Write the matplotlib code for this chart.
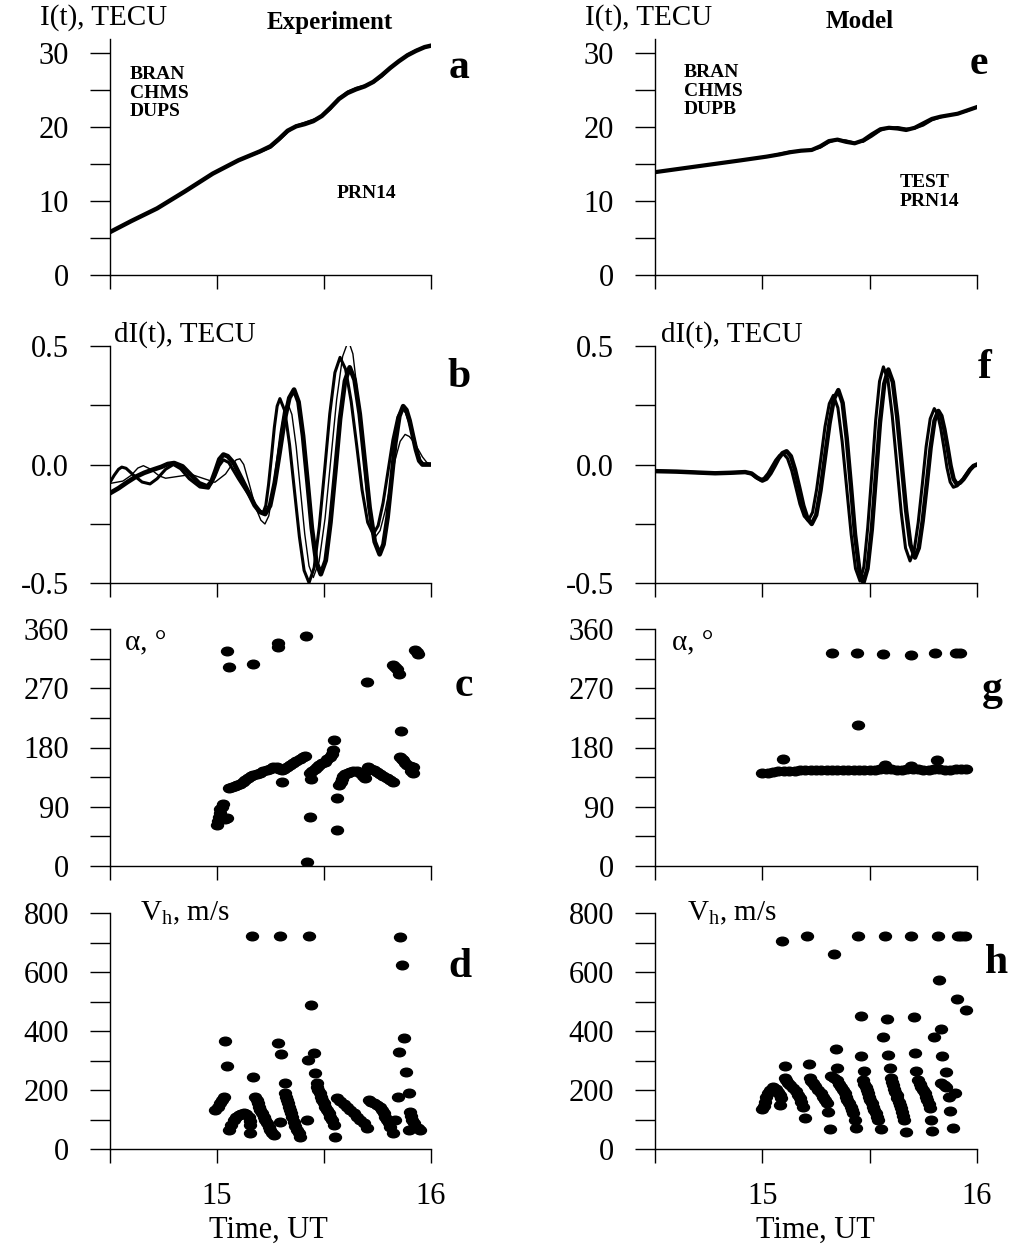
import matplotlib.pyplot as plt
from matplotlib.path import Path
from matplotlib.transforms import Affine2D

plt.rcParams['font.family'] = ['Liberation Serif', 'DejaVu Serif']
plt.rcParams['mathtext.fontset'] = 'custom'
plt.rcParams['mathtext.rm'] = 'Liberation Serif'
plt.rcParams['mathtext.it'] = 'Liberation Serif:italic'

# ---- data ----
# a: I(t) experiment
a_t = [14.50, 14.60, 14.72, 14.85, 14.98, 15.10, 15.20, 15.25, 15.29, 15.33, 15.37, 15.41, 15.45, 15.49,
       15.53, 15.57, 15.61, 15.65, 15.69, 15.73, 15.77, 15.81, 15.85, 15.89, 15.93, 15.97, 16.00]
a_i1 = [5.8, 7.3, 9.0, 11.3, 13.7, 15.5, 16.7, 17.4, 18.4, 19.5, 20.1, 20.4, 20.8, 21.5,
        22.6, 23.8, 24.6, 25.1, 25.5, 26.1, 27.0, 28.0, 28.9, 29.7, 30.3, 30.8, 31.0]
a_i2 = [5.8, 7.3, 9.0, 11.3, 13.7, 15.5, 16.6, 17.2, 18.2, 19.3, 20.2, 20.6, 21.0, 21.4,
        22.4, 23.9, 24.8, 25.3, 25.6, 26.0, 26.8, 27.9, 28.9, 29.8, 30.4, 30.8, 31.0]

# e: I(t) model
e_t = [14.50, 14.70, 14.90, 15.02, 15.08, 15.13, 15.18, 15.23, 15.27, 15.31, 15.35, 15.39, 15.43, 15.47,
       15.51, 15.55, 15.59, 15.63, 15.67, 15.71, 15.75, 15.79, 15.83, 15.87, 15.91, 15.95, 16.00]
e_i1 = [13.9, 14.7, 15.5, 16.0, 16.3, 16.6, 16.8, 16.9, 17.4, 18.1, 18.3, 18.0, 17.8, 18.2,
        19.0, 19.7, 19.9, 19.8, 19.6, 19.9, 20.5, 21.1, 21.4, 21.6, 21.8, 22.2, 22.7]
e_i2 = [13.9, 14.7, 15.5, 16.0, 16.4, 16.7, 16.8, 16.9, 17.2, 17.9, 18.3, 18.2, 17.9, 18.0,
        18.7, 19.5, 19.9, 20.0, 19.8, 19.8, 20.2, 20.9, 21.3, 21.6, 21.8, 22.1, 22.7]

# b: dI(t) experiment, three stations
b_t1 = [14.500, 14.540, 14.580, 14.620, 14.660, 14.700, 14.740, 14.770, 14.800, 14.839, 14.878, 14.916, 14.955,
        14.974, 14.993, 15.011, 15.030, 15.050, 15.079, 15.128, 15.176, 15.200, 15.225,
        15.248, 15.270, 15.293, 15.315, 15.338, 15.360, 15.381, 15.402, 15.423, 15.443, 15.464, 15.485,
        15.508, 15.530, 15.553, 15.575, 15.598, 15.620, 15.643, 15.667, 15.690, 15.713, 15.737, 15.760,
        15.778, 15.797, 15.815, 15.833, 15.852, 15.870, 15.885, 15.900, 15.915, 15.930, 15.945, 15.960, 15.980, 16.000]
b_v1 = [-0.121, -0.100, -0.075, -0.052, -0.035, -0.022, -0.010, 0.002, 0.006, -0.008, -0.044, -0.079, -0.093,
        -0.073, -0.026, 0.022, 0.042, 0.035, 0.005, -0.084, -0.172, -0.200, -0.209,
        -0.174, -0.078, 0.054, 0.185, 0.281, 0.316, 0.264, 0.121, -0.074, -0.268, -0.411, -0.463,
        -0.405, -0.245, -0.027, 0.192, 0.352, 0.410, 0.357, 0.213, 0.016, -0.182, -0.326, -0.379,
        -0.337, -0.223, -0.067, 0.090, 0.204, 0.246, 0.230, 0.185, 0.123, 0.062, 0.016, 0.000, 0.000, 0.000]
b_t2 = [14.500, 14.520, 14.540, 14.555, 14.575, 14.610, 14.650, 14.687, 14.720, 14.760, 14.796, 14.830, 14.870,
        14.920, 14.960, 14.990, 15.010, 15.030, 15.055, 15.100, 15.150, 15.190, 15.215,
        15.228, 15.241, 15.255, 15.268, 15.281, 15.294, 15.317, 15.339, 15.362, 15.385, 15.407, 15.430,
        15.454, 15.478, 15.503, 15.527, 15.551, 15.575, 15.601, 15.627, 15.653, 15.678, 15.704, 15.730,
        15.753, 15.776, 15.799, 15.822, 15.845, 15.868, 15.884, 15.900, 15.917, 15.933, 15.949, 15.965, 16.000]
b_v2 = [-0.075, -0.045, -0.020, -0.011, -0.016, -0.045, -0.074, -0.082, -0.060, -0.020, 0.000, -0.018, -0.060,
        -0.095, -0.100, -0.050, -0.005, 0.020, 0.008, -0.060, -0.130, -0.190, -0.205,
        -0.173, -0.084, 0.037, 0.157, 0.246, 0.278, 0.226, 0.084, -0.111, -0.305, -0.447, -0.499,
        -0.435, -0.261, -0.024, 0.214, 0.388, 0.452, 0.402, 0.266, 0.079, -0.108, -0.244, -0.294,
        -0.258, -0.162, -0.029, 0.104, 0.200, 0.236, 0.220, 0.177, 0.118, 0.059, 0.016, 0.000, 0.000]
b_t3 = [14.500, 14.560, 14.600, 14.630, 14.656, 14.690, 14.730, 14.760, 14.820, 14.880, 14.940, 14.990, 15.040,
        15.070, 15.090, 15.107, 15.125, 15.150, 15.180, 15.205, 15.224,
        15.242, 15.259, 15.277, 15.295, 15.312, 15.330, 15.350, 15.370, 15.390, 15.410, 15.430, 15.450,
        15.477, 15.505, 15.532, 15.559, 15.587, 15.614, 15.635, 15.655, 15.676, 15.697, 15.717, 15.738,
        15.762, 15.785, 15.809, 15.832, 15.856, 15.879, 15.899, 15.919, 15.940, 15.960, 15.980, 16.000]
b_v3 = [-0.080, -0.070, -0.045, -0.015, -0.005, -0.020, -0.048, -0.058, -0.050, -0.042, -0.060, -0.075, -0.040,
        0.000, 0.020, 0.024, 0.000, -0.080, -0.180, -0.235, -0.251,
        -0.217, -0.123, 0.005, 0.132, 0.226, 0.260, 0.211, 0.076, -0.109, -0.293, -0.428, -0.477,
        -0.410, -0.227, 0.023, 0.273, 0.456, 0.523, 0.467, 0.315, 0.108, -0.100, -0.252, -0.308,
        -0.279, -0.199, -0.091, 0.018, 0.098, 0.127, 0.118, 0.095, 0.064, 0.032, 0.009, 0.000]

# f: dI(t) model
f_t1 = [14.50, 14.60, 14.70, 14.78, 14.85, 14.92, 14.95, 14.975, 15.000,
        15.019, 15.038, 15.057, 15.075, 15.094, 15.113, 15.133, 15.152, 15.172, 15.191, 15.211, 15.230,
        15.251, 15.271, 15.292, 15.313, 15.333, 15.354, 15.374, 15.393, 15.413, 15.432, 15.452, 15.471,
        15.490, 15.510, 15.529, 15.548, 15.568, 15.587, 15.608, 15.628, 15.649, 15.670, 15.690, 15.711,
        15.729, 15.747, 15.766, 15.784, 15.802, 15.820, 15.834, 15.848, 15.863, 15.877, 15.891, 15.905,
        15.921, 15.937, 15.953, 15.968, 15.984, 16.000]
f_v1 = [-0.028, -0.030, -0.034, -0.037, -0.035, -0.032, -0.038, -0.055, -0.068,
        -0.060, -0.037, -0.006, 0.025, 0.048, 0.056, 0.035, -0.021, -0.098, -0.174, -0.230, -0.251,
        -0.213, -0.110, 0.032, 0.173, 0.276, 0.314, 0.260, 0.111, -0.093, -0.296, -0.445, -0.499,
        -0.439, -0.274, -0.049, 0.176, 0.341, 0.401, 0.348, 0.203, 0.004, -0.195, -0.339, -0.393,
        -0.352, -0.238, -0.084, 0.071, 0.185, 0.226, 0.205, 0.149, 0.072, -0.005, -0.061, -0.082,
        -0.077, -0.062, -0.041, -0.021, -0.006, 0.000]
f_t2 = [14.50, 14.60, 14.70, 14.78, 14.85, 14.92, 14.95, 14.97, 14.990,
        15.008, 15.026, 15.044, 15.062, 15.080, 15.098, 15.117, 15.137, 15.156, 15.175, 15.195, 15.214,
        15.234, 15.253, 15.273, 15.292, 15.312, 15.331, 15.352, 15.372, 15.393, 15.414, 15.434, 15.455,
        15.473, 15.491, 15.510, 15.528, 15.546, 15.564, 15.585, 15.605, 15.626, 15.647, 15.667, 15.688,
        15.707, 15.726, 15.745, 15.763, 15.782, 15.801, 15.816, 15.831, 15.846, 15.860, 15.875, 15.890,
        15.908, 15.927, 15.945, 15.963, 15.982, 16.000]
f_v2 = [-0.028, -0.030, -0.034, -0.037, -0.035, -0.032, -0.040, -0.055, -0.065,
        -0.058, -0.038, -0.010, 0.018, 0.038, 0.045, 0.026, -0.026, -0.096, -0.167, -0.218, -0.237,
        -0.202, -0.105, 0.028, 0.160, 0.257, 0.292, 0.239, 0.096, -0.100, -0.296, -0.439, -0.492,
        -0.431, -0.266, -0.040, 0.186, 0.351, 0.412, 0.357, 0.207, 0.003, -0.202, -0.352, -0.407,
        -0.364, -0.246, -0.086, 0.075, 0.193, 0.236, 0.214, 0.153, 0.070, -0.013, -0.074, -0.096,
        -0.090, -0.072, -0.048, -0.024, -0.006, 0.000]

# c: azimuth alpha, experiment
c_t = [15.000, 15.004, 15.008, 15.012, 15.016, 15.022, 15.030, 15.045, 15.038,
       15.048, 15.058, 15.167, 15.287, 15.287, 15.416, 15.699, 15.824, 15.832, 15.840, 15.850, 15.925, 15.933, 15.941,
       15.860, 15.302, 15.438, 15.435, 15.422, 15.559, 15.562, 15.548, 15.692,
       15.855, 15.863, 15.871, 15.878, 15.886, 15.900, 15.917, 15.917, 15.905,
       15.058, 15.070, 15.082, 15.095, 15.107, 15.120, 15.133, 15.145, 15.158, 15.170, 15.185, 15.200, 15.216, 15.232, 15.248,
       15.264, 15.279, 15.292, 15.302, 15.315, 15.328, 15.341, 15.355, 15.370, 15.388, 15.400, 15.411,
       15.435, 15.445, 15.456, 15.466, 15.478, 15.492, 15.505, 15.516, 15.528, 15.536, 15.544,
       15.572, 15.578, 15.584, 15.590, 15.600, 15.610, 15.621, 15.637, 15.653, 15.668, 15.684, 15.695, 15.707, 15.720, 15.733,
       15.746, 15.760, 15.776, 15.793, 15.808, 15.821]
c_a = [62, 68, 75, 80, 86, 90, 94, 73, 72,
       327, 303, 307, 339, 332, 350, 280, 305, 302, 299, 292, 328, 325, 322,
       205, 127, 132, 74, 6, 55, 104, 191, 133,
       165, 163, 161, 157, 153, 152, 151, 141, 145,
       119, 120, 121, 123, 125, 128, 131, 134, 136, 138, 140, 142, 144, 146, 148,
       150, 151, 148, 146, 148, 151, 153, 156, 159, 162, 165, 167,
       141, 145, 148, 151, 154, 156, 158, 162, 166, 170, 176,
       123, 128, 132, 136, 139, 141, 143, 145, 145, 141, 137, 145, 151, 148, 146,
       143, 140, 136, 133, 130, 128]

# g: azimuth alpha, model
g_t = [15.000, 15.025, 15.050, 15.075, 15.100, 15.125, 15.150, 15.175, 15.200, 15.225, 15.250, 15.275, 15.300, 15.325,
       15.350, 15.375, 15.400, 15.425, 15.450, 15.475, 15.500, 15.525, 15.550, 15.575, 15.600, 15.625, 15.650, 15.675,
       15.700, 15.725, 15.750, 15.775, 15.800, 15.825, 15.850, 15.875, 15.900, 15.925, 15.950,
       15.323, 15.442, 15.563, 15.691, 15.804, 15.902, 15.920,
       15.446, 15.095, 15.814, 15.570, 15.694]
g_a = [141, 142, 143, 144, 145, 145, 145, 146, 146, 146, 146, 146, 146, 146,
       146, 146, 146, 146, 146, 146, 146, 146, 147, 148, 147, 146, 146, 147,
       148, 147, 146, 146, 147, 147, 146, 146, 147, 147, 148,
       324, 323, 322, 321, 323, 323, 323,
       214, 163, 161, 153, 152]

# d: horizontal velocity, experiment
d_t = [15.164, 15.296, 15.428, 15.857, 15.864, 15.441,
       15.039, 15.047, 15.168, 15.285, 15.301, 15.316, 15.452, 15.424, 15.460, 15.467, 15.875, 15.850, 15.883, 15.897, 15.844,
       14.992, 15.004, 15.016, 15.025, 15.034,
       15.055, 15.066, 15.078, 15.090, 15.101, 15.113, 15.125, 15.137, 15.148, 15.153, 15.156, 15.156,
       15.179, 15.185, 15.190, 15.196, 15.202, 15.210, 15.218, 15.226, 15.234, 15.242, 15.249, 15.257, 15.265, 15.296,
       15.319, 15.323, 15.327, 15.331, 15.335, 15.340, 15.346, 15.352, 15.358, 15.366, 15.374, 15.382, 15.389, 15.420,
       15.467, 15.474, 15.480, 15.486, 15.492, 15.499, 15.506, 15.514, 15.522, 15.530, 15.537, 15.545, 15.553,
       15.561, 15.576, 15.592, 15.608, 15.623, 15.638, 15.654, 15.670, 15.685, 15.701,
       15.709, 15.720, 15.732, 15.748, 15.763, 15.771, 15.779, 15.787, 15.794, 15.802, 15.810, 15.833, 15.822,
       15.903, 15.907, 15.911, 15.919, 15.927, 15.938, 15.950, 15.896]
d_v = [722, 722, 722, 720, 624, 488,
       366, 281, 243, 360, 322, 225, 327, 302, 259, 225, 376, 329, 261, 191, 175,
       132, 143, 155, 166, 177,
       64, 81, 98, 108, 115, 119, 121, 117, 110, 95, 81, 53,
       177, 166, 155, 143, 132, 121, 110, 98, 87, 75, 64, 55, 47, 93,
       189, 177, 166, 155, 144, 132, 121, 107, 93, 78, 64, 53, 42, 98,
       211, 200, 189, 177, 166, 155, 144, 132, 121, 110, 98, 81, 40,
       172, 163, 153, 142, 132, 121, 110, 98, 87, 70,
       166, 160, 155, 150, 144, 132, 121, 110, 98, 87, 76, 98, 53,
       127, 112, 98, 87, 76, 70, 64, 64]

# h: horizontal velocity, model
h_t = [15.092, 15.208, 15.332, 15.446, 15.570, 15.694, 15.818, 15.911, 15.927, 15.943,
       15.823, 15.907, 15.947, 15.458, 15.581, 15.705, 15.562, 15.831, 15.798,
       15.342, 15.458, 15.585, 15.710, 15.839,
       15.104, 15.216, 15.348, 15.472, 15.593, 15.717, 15.854,
       15.000, 15.006, 15.011, 15.018, 15.026, 15.038, 15.050, 15.062, 15.073, 15.081, 15.089, 15.081,
       15.104, 15.112, 15.120, 15.131, 15.143, 15.155, 15.166, 15.174, 15.182, 15.189, 15.197,
       15.220, 15.228, 15.236, 15.247, 15.259, 15.271, 15.283, 15.292, 15.301, 15.306, 15.314,
       15.321, 15.335, 15.348, 15.358, 15.368, 15.376, 15.384, 15.390, 15.396, 15.404, 15.411, 15.417, 15.422, 15.430, 15.435,
       15.469, 15.475, 15.481, 15.487, 15.492, 15.498, 15.503, 15.510, 15.516, 15.522, 15.528, 15.534, 15.539, 15.551,
       15.601, 15.605, 15.609, 15.615, 15.620, 15.625, 15.629, 15.635, 15.640, 15.646, 15.651, 15.656, 15.660, 15.668,
       15.725, 15.733, 15.741, 15.749, 15.756, 15.763, 15.769, 15.775, 15.780, 15.787, 15.792,
       15.834, 15.845, 15.857, 15.870, 15.896, 15.873, 15.888]
h_v = [706, 722, 661, 722, 722, 722, 722, 722, 722, 722,
       573, 507, 471, 452, 440, 449, 379, 406, 381,
       338, 315, 319, 327, 316,
       281, 288, 276, 266, 273, 266, 262,
       134, 147, 160, 175, 189, 200, 211, 203, 194, 183, 172, 149,
       240, 233, 225, 216, 206, 195, 183, 172, 160, 144, 104,
       240, 232, 223, 212, 200, 189, 177, 166, 155, 127, 67,
       247, 241, 234, 222, 211, 200, 189, 177, 166, 155, 144, 132, 121, 98, 70,
       234, 222, 211, 200, 189, 177, 166, 155, 144, 132, 121, 110, 98, 67,
       240, 228, 217, 205, 194, 183, 172, 160, 149, 138, 127, 112, 98, 59,
       234, 222, 211, 200, 189, 177, 166, 152, 138, 98, 62,
       223, 217, 211, 177, 191, 130, 70]

W, H = 1014, 1247


def box(x0, x1, ytop, ybot):
    return [x0 / W, 1 - ybot / H, (x1 - x0) / W, (ybot - ytop) / H]


def ftext(x, y, s, **kw):
    fig.text(x / W, 1 - y / H, s, **kw)


rows = [
    ((39, 275), (0, 31.9), [0, 5, 10, 15, 20, 25, 30], ['0', '', '10', '', '20', '', '30']),
    ((346, 583), (-0.5, 0.5), [-0.5, -0.25, 0, 0.25, 0.5], ['-0.5', '', '0.0', '', '0.5']),
    ((629, 866), (0, 360), list(range(0, 361, 45)), ['0', '', '90', '', '180', '', '270', '', '360']),
    ((913, 1149), (0, 800), list(range(0, 801, 100)), ['0', '', '200', '', '400', '', '600', '', '800']),
]
cols = [(110, 431), (655, 977)]

fig = plt.figure(figsize=(W / 100, H / 100), dpi=100)
axes = {}
for r, (ypx, ylim, yt, yl) in enumerate(rows):
    for c, xpx in enumerate(cols):
        ax = fig.add_axes(box(xpx[0], xpx[1], ypx[0], ypx[1]))
        ax.set_xlim(14.5, 16)
        ax.set_ylim(*ylim)
        ax.spines['top'].set_visible(False)
        ax.spines['right'].set_visible(False)
        ax.spines['left'].set_linewidth(1)
        ax.spines['bottom'].set_linewidth(1)
        ax.set_xticks([14.5, 15, 15.5, 16])
        ax.set_xticklabels(['', '15', '', '16'] if r == 3 else ['', '', '', ''])
        ax.set_yticks(yt)
        ax.set_yticklabels(yl)
        ax.tick_params(axis='x', direction='out', length=10, width=1, pad=14, labelsize=22)
        ax.tick_params(axis='y', direction='out', length=14.4, width=1, pad=15, labelsize=22)
        ax.patch.set_alpha(0)
        axes[(r, c)] = ax

dot = Path.unit_circle().transformed(Affine2D().scale(1.0, 0.72))
mk = dict(linestyle='none', marker=dot, markersize=8.6, color='black')

# row 1: I(t)
axes[(0, 0)].plot(a_t, a_i1, color='black', lw=3.2)
axes[(0, 0)].plot(a_t, a_i2, color='black', lw=1.5)
axes[(0, 1)].plot(e_t, e_i1, color='black', lw=3.0)
axes[(0, 1)].plot(e_t, e_i2, color='black', lw=1.5)

# row 2: dI(t)
axes[(1, 0)].plot(b_t3, b_v3, color='black', lw=1.0)
axes[(1, 0)].plot(b_t2, b_v2, color='black', lw=2.2)
axes[(1, 0)].plot(b_t1, b_v1, color='black', lw=3.4)
axes[(1, 1)].plot(f_t2, f_v2, color='black', lw=2.2)
axes[(1, 1)].plot(f_t1, f_v1, color='black', lw=3.2)

# row 3: alpha
axes[(2, 0)].plot(c_t, c_a, **mk)
axes[(2, 1)].plot(g_t, g_a, **mk)

# row 4: Vh
axes[(3, 0)].plot(d_t, d_v, **mk)
axes[(3, 1)].plot(h_t, h_v, **mk)

# labels
for x0 in (40, 585):
    ftext(x0, 18, 'I(t), TECU', fontsize=21, va='center', ha='left')
for x0 in (114, 661):
    ftext(x0, 335, 'dI(t), TECU', fontsize=21, va='center', ha='left')
for x0 in (125, 672):
    ftext(x0, 643, 'α, °', fontsize=21, va='center', ha='left')
for x0 in (140, 687):
    ftext(x0, 913, r'V$_{\rm h}$, m/s', fontsize=21, va='center', ha='left')
for xc in (268, 815):
    ftext(xc, 1230, 'Time, UT', fontsize=22, va='center', ha='center')

ftext(330, 22, 'Experiment', fontsize=18, fontweight='bold', va='center', ha='center')
ftext(860, 22, 'Model', fontsize=18, fontweight='bold', va='center', ha='center')

ftext(130, 93, 'BRAN\nCHMS\nDUPS', fontsize=14, fontweight='bold', va='center', ha='left', linespacing=1.1)
ftext(337, 193, 'PRN14', fontsize=14, fontweight='bold', va='center', ha='left')
ftext(684, 91, 'BRAN\nCHMS\nDUPB', fontsize=14, fontweight='bold', va='center', ha='left', linespacing=1.1)
ftext(900, 192, 'TEST\nPRN14', fontsize=14, fontweight='bold', va='center', ha='left', linespacing=1.1)

letters = [('a', 459, 68), ('b', 459, 377), ('c', 464, 686), ('d', 460, 967),
           ('e', 979, 64), ('f', 985, 368), ('g', 992, 690), ('h', 997, 963)]
for s, x, y in letters:
    ftext(x, y, s, fontsize=30, fontweight='bold', va='center', ha='center')

fig.savefig('out.png', dpi=100)
